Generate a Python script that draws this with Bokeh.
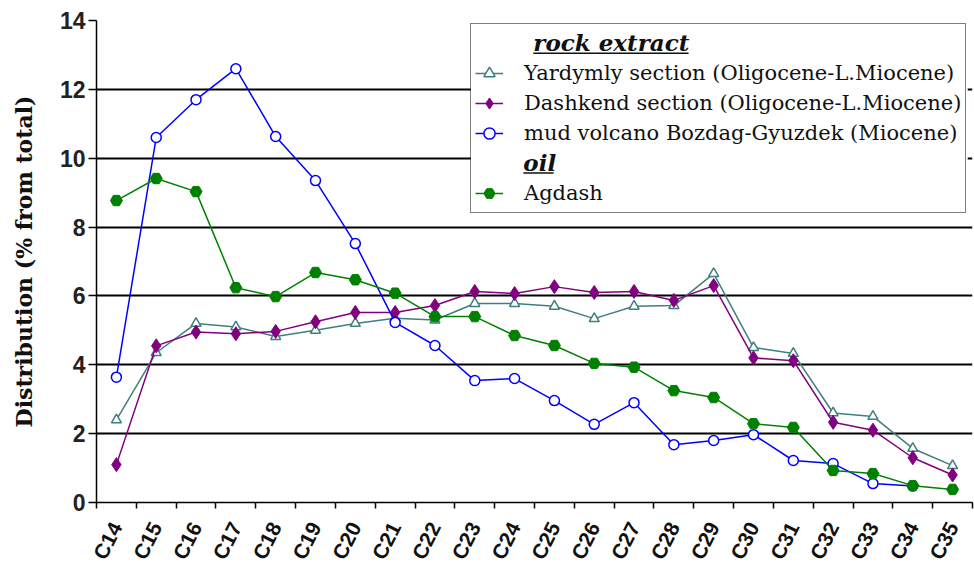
from bokeh.plotting import figure
from bokeh.models import Range1d, FixedTicker, Legend, LegendItem, Label, BoxAnnotation, ColumnDataSource
from bokeh.embed import file_html
from bokeh.resources import INLINE

nan = float("nan")

categories = ["C14", "C15", "C16", "C17", "C18", "C19", "C20", "C21", "C22", "C23", "C24",
              "C25", "C26", "C27", "C28", "C29", "C30", "C31", "C32", "C33", "C34", "C35"]
yardymly = [2.4, 4.35, 5.2, 5.1, 4.82, 5.0, 5.2, 5.35, 5.3, 5.78, 5.78,
            5.7, 5.34, 5.7, 5.72, 6.65, 4.5, 4.33, 2.6, 2.5, 1.57, 1.07]
dashkend = [1.1, 4.55, 4.95, 4.9, 4.97, 5.25, 5.52, 5.52, 5.72, 6.13, 6.07,
            6.27, 6.1, 6.13, 5.87, 6.3, 4.2, 4.12, 2.33, 2.1, 1.3, 0.8]
mud_volcano = [3.64, 10.6, 11.7, 12.6, 10.63, 9.35, 7.52, 5.23, 4.56, 3.54, 3.6,
               2.96, 2.27, 2.9, 1.68, 1.8, 1.97, 1.22, 1.13, 0.55, 0.48, nan]
agdash = [8.77, 9.41, 9.03, 6.24, 5.98, 6.68, 6.47, 6.08, 5.4, 5.4, 4.85,
          4.56, 4.04, 3.93, 3.25, 3.05, 2.29, 2.18, 0.93, 0.84, 0.49, 0.38]
y_ticks = [0, 2, 4, 6, 8, 10, 12, 14]

SERIF = "DejaVu Serif"
SANS = "Liberation Sans"

n = len(categories)
xc = [i + 0.5 for i in range(n)]
src = ColumnDataSource(dict(x=xc, yard=yardymly, dash=dashkend, mud=mud_volcano, agd=agdash))

p = figure(width=974, height=576, output_backend="svg", toolbar_location=None,
           x_range=Range1d(0, n), y_range=Range1d(0, 14),
           min_border_left=96, min_border_right=2, min_border_top=20, min_border_bottom=74)
p.outline_line_color = None
p.background_fill_color = "white"

p.xaxis.ticker = FixedTicker(ticks=xc, minor_ticks=list(range(n + 1)))
p.xaxis.major_label_overrides = {x: c for x, c in zip(xc, categories)}
p.xaxis.major_tick_out = 0
p.xaxis.major_tick_in = 0
p.xaxis.minor_tick_out = 6
p.xaxis.minor_tick_in = 0
p.xaxis.minor_tick_line_color = "black"
p.xaxis.minor_tick_line_width = 1.5
p.xaxis.axis_line_color = "black"
p.xaxis.axis_line_width = 1.5
p.xaxis.major_label_orientation = 1.1
p.xaxis.major_label_standoff = 15
p.xaxis.major_label_text_font = SANS
p.xaxis.major_label_text_font_style = "bold"
p.xaxis.major_label_text_font_size = "21px"
p.xaxis.major_label_text_color = "#111111"

p.yaxis.ticker = FixedTicker(ticks=y_ticks)
p.yaxis.minor_tick_line_color = None
p.yaxis.major_tick_out = 8
p.yaxis.major_tick_in = 0
p.yaxis.major_tick_line_width = 1.5
p.yaxis.axis_line_width = 1.5
p.yaxis.axis_line_color = "black"
p.yaxis.major_label_standoff = 3
p.yaxis.major_label_text_font = SANS
p.yaxis.major_label_text_font_style = "bold"
p.yaxis.major_label_text_font_size = "23px"
p.yaxis.major_label_text_color = "#222222"
p.yaxis.axis_label = "Distribution (% from total)"
p.yaxis.axis_label_text_font = SERIF
p.yaxis.axis_label_text_font_style = "bold"
p.yaxis.axis_label_text_font_size = "22px"
p.yaxis.axis_label_text_color = "#111111"
p.yaxis.axis_label_standoff = 20

p.xgrid.grid_line_color = None
p.ygrid.grid_line_color = "black"
p.ygrid.grid_line_width = 2

yl = p.line("x", "yard", source=src, line_color="#3f7f7f", line_width=1.5)
ys = p.scatter("x", "yard", source=src, marker="triangle", size=10, line_color="#3f7f7f",
               fill_color="white", line_width=1.5)
dl = p.line("x", "dash", source=src, line_color="#800080", line_width=1.5)
ds = p.scatter("x", "dash", source=src, marker="diamond", size=14, line_color="#800080",
               fill_color="#800080")
ml = p.line("x", "mud", source=src, line_color="#0000ff", line_width=1.5)
ms = p.scatter("x", "mud", source=src, marker="circle", size=10, line_color="#0000ff",
               fill_color="white", line_width=1.5)
al = p.line("x", "agd", source=src, line_color="#008000", line_width=1.5)
ag = p.scatter("x", "agd", source=src, marker="hex", size=12, line_color="#008000",
               fill_color="#008000")

dummy = p.line([], [], line_alpha=0)

# white panel behind the transparent legend so the section headings can sit on it
p.add_layout(BoxAnnotation(left=9.4, right=21.88, bottom=8.41, top=13.84,
                           fill_color="white", fill_alpha=1, line_color=None, level="annotation"))

for txt, x, y, w in [("rock extract", 10.97, 13.36, 3.9), ("oil", 10.72, 9.88, 0.76)]:
    p.add_layout(Label(x=x, y=y, text=txt, text_font=SERIF, text_font_style="bold italic",
                       text_font_size="23px", text_baseline="middle", text_color="#111111",
                       level="annotation"))
    p.add_layout(BoxAnnotation(left=x, right=x + w, bottom=y - 0.33, top=y - 0.29,
                               fill_color="#111111", fill_alpha=1, line_color=None,
                               level="annotation"))

legend = Legend(items=[
    LegendItem(label=" ", renderers=[dummy]),
    LegendItem(label="Yardymly section (Oligocene-L.Miocene)", renderers=[yl, ys]),
    LegendItem(label="Dashkend section (Oligocene-L.Miocene)", renderers=[dl, ds]),
    LegendItem(label="mud volcano Bozdag-Gyuzdek (Miocene)", renderers=[ml, ms]),
    LegendItem(label=" ", renderers=[dummy]),
    LegendItem(label="Agdash", renderers=[al, ag]),
], location=(374, 289))
legend.padding = 4
legend.margin = 0
legend.spacing = 0
legend.label_height = 30
legend.glyph_height = 30
legend.glyph_width = 28
legend.label_standoff = 21
legend.label_text_font = SERIF
legend.label_text_font_size = "21px"
legend.label_text_color = "#111111"
legend.border_line_color = "black"
legend.border_line_width = 1.5
legend.background_fill_alpha = 0
p.add_layout(legend)

open("out.html", "w").write(file_html(p, INLINE))
